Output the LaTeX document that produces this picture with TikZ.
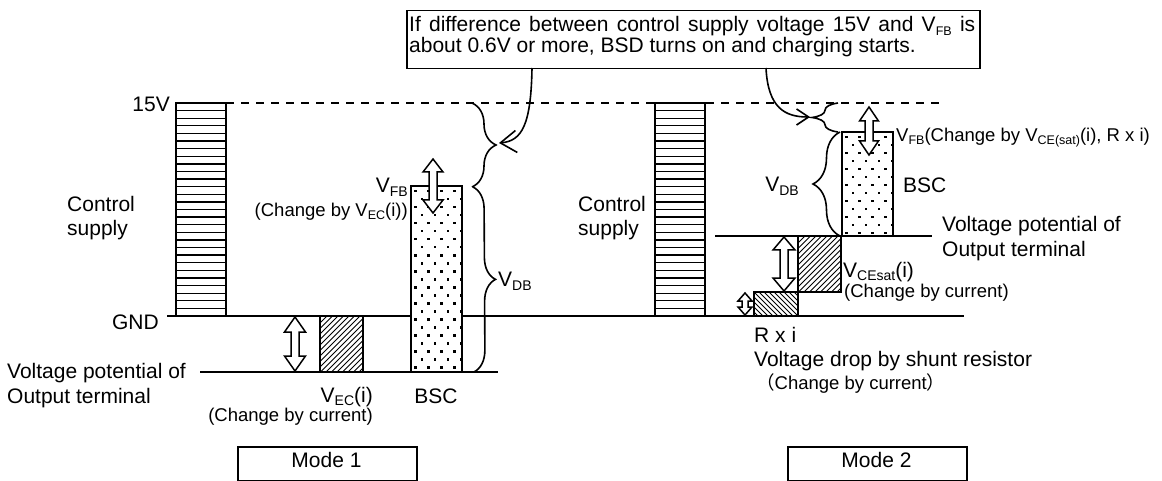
\documentclass[tikz,border=0pt]{standalone}
\usepackage{fontspec}
\setmainfont{Liberation Sans}
\newfontfamily\cjk{Noto Sans CJK JP}
\usetikzlibrary{arrows.meta,decorations.pathreplacing}
\newcommand{\sbs}[1]{\raisebox{-0.3ex}{\fontsize{14}{14}\selectfont #1}}
\newcommand{\ssbs}[1]{\raisebox{-0.3ex}{\fontsize{12.5}{12.5}\selectfont #1}}
% double open arrow: x, ytop, ybot, head half width, shaft half width, head length
\newcommand{\dblarr}[6]{%
  \draw[dbl] (#1,#2) -- (#1+#4,#2+#6) -- (#1+#5,#2+#6) -- (#1+#5,#3-#6) -- (#1+#4,#3-#6)
    -- (#1,#3) -- (#1-#4,#3-#6) -- (#1-#5,#3-#6) -- (#1-#5,#2+#6) -- (#1-#4,#2+#6) -- cycle;}
\begin{document}
\begin{tikzpicture}[x=1pt,y=-1pt,
  every node/.style={inner sep=0pt, font=\fontsize{21}{24}\selectfont},
  small/.style={font=\fontsize{18.5}{22}\selectfont},
  bar/.style={draw, line width=2, fill=white},
  lvl/.style={line width=1.5},
  hatchline/.style={line width=0.9},
  dbl/.style={line width=1.5, fill=white},
  brc/.style={decorate, decoration={brace, amplitude=#1}, line width=1.6},
  callout/.style={line width=1.6},
  modebox/.style={draw, line width=1.5, minimum width=179pt, minimum height=34pt, anchor=north west}]
\useasboundingbox (0,0) rectangle (1162,481);

% ---------- reference levels ----------
\draw[line width=1.3, dash pattern=on 8pt off 7pt] (226,103) -- (940,103);
\draw[lvl] (167,316) -- (964,316);
\draw[lvl] (200,372) -- (498,372);
\draw[lvl] (715,236) -- (932,236);

% ---------- Mode 1 ----------
% control supply bar
\draw[bar] (176,103) rectangle (226,316);
\foreach \k in {1,...,27} \draw[line width=1.3] (176,{103+\k*7.607}) -- (226,{103+\k*7.607});

% V_EC hatched box
\begin{scope}
  \clip (320,316) rectangle (363,372);
  \foreach \i in {0,...,22} \draw[hatchline] ({260+\i*5.5},372) -- ++(64,-64);
\end{scope}
\draw[line width=2] (320,316) rectangle (363,372);

% BSC dotted box
\fill[white] (411,186) rectangle (462,372);
\begin{scope}
  \clip (411,186) rectangle (462,372);
  \foreach \r in {0,...,23} \foreach \c in {0,...,4}
    \fill ({414+\c*13+mod(\r,2)*6.5}, {190+\r*8}) rectangle ++(2.5,2.5);
\end{scope}
\draw[line width=2] (411,186) rectangle (462,372);

\dblarr{295}{317}{371}{10.5}{4}{15}
\dblarr{433}{159}{213}{10}{4}{13}

% braces
\draw[brc=24pt] (472,103) -- (472,187);
\draw[brc=22pt] (473,187) -- (474,372);

% labels
\node[anchor=base east] (l15) at (170,111.5) {15V};
\node[anchor=base east] (lgnd) at (159,329) {GND};
\node[anchor=base west] (lcs1) at (67,212) {Control};
\node[anchor=base west] (lcs2) at (67,236) {supply};
\node[anchor=base west] (lvp1) at (7,378) {Voltage potential of};
\node[anchor=base west] (lvp2) at (7,403) {Output terminal};
\node[anchor=base east] (lvfb) at (408,193) {V\sbs{FB}};
\node[small, anchor=base east] (lvfb2) at (408,217) {(Change by V\ssbs{EC}(i))};
\node[anchor=base east] (lvec) at (373,402) {V\sbs{EC}(i)};
\node[small, anchor=base east] (lvec2) at (373,421) {(Change by current)};
\node[anchor=base] (lbsc) at (436,403) {BSC};
\node[anchor=base west] (lvdb) at (498,287) {V\sbs{DB}};
\node[modebox] (m1) at (237,446) {};
\node[anchor=base] (m1t) at (326.5,467) {Mode 1};

% ---------- Mode 2 ----------
\draw[bar] (655,103) rectangle (705,316);
\foreach \k in {1,...,27} \draw[line width=1.3] (655,{103+\k*7.607}) -- (705,{103+\k*7.607});

% R x i box (back hatch)
\begin{scope}
  \clip (754,292) rectangle (798,316);
  \foreach \i in {0,...,14} \draw[hatchline] ({724+\i*5},292) -- ++(30,30);
\end{scope}
\draw[line width=2] (754,292) rectangle (798,316);

% V_CEsat box
\begin{scope}
  \clip (798,236) rectangle (841,292);
  \foreach \i in {0,...,22} \draw[hatchline] ({738+\i*5.5},292) -- ++(64,-64);
\end{scope}
\draw[line width=2] (798,236) rectangle (841,292);

% BSC box
\fill[white] (842,132) rectangle (893,236);
\begin{scope}
  \clip (842,132) rectangle (893,236);
  \foreach \r in {0,...,13} \foreach \c in {0,...,4}
    \fill ({845+\c*13+mod(\r,2)*6.5}, {136+\r*8}) rectangle ++(2.5,2.5);
\end{scope}
\draw[line width=2] (842,132) rectangle (893,236);

\dblarr{869}{107}{155}{9.5}{4}{14}
\dblarr{784}{237}{291}{11}{4}{13}
\dblarr{745}{293}{315}{7}{3}{8}

\draw[brc=26pt] (838,132) -- (838,103);
\draw[brc=27pt] (840,236) -- (840,132);

\node[anchor=base west] (rcs1) at (578,212) {Control};
\node[anchor=base west] (rcs2) at (578,236) {supply};
\node[anchor=base east] (rvdb) at (799,192) {V\sbs{DB}};
\node[small, anchor=base west] (rvfb) at (896,142) {V\ssbs{FB}(Change by V\ssbs{CE(sat)}(i), R x i)};
\node[anchor=base west] (rbsc) at (903,193) {BSC};
\node[anchor=base west] (rvp1) at (942,232) {Voltage potential of};
\node[anchor=base west] (rvp2) at (942,256) {Output terminal};
\node[anchor=base west] (rvce) at (843,277) {V\sbs{CEsat}(i)};
\node[small, anchor=base west] (rvce2) at (844,297) {(Change by current)};
\node[anchor=base west] (rrxi) at (754,342) {R x i};
\node[anchor=base west] (rvd) at (754,366) {Voltage drop by shunt resistor};
\node[small, anchor=base west] (rcc) at (756,389) {{\cjk （}Change by current{\cjk ）}};
\node[modebox] (m2) at (787,446) {};
\node[anchor=base] (m2t) at (876.5,467) {Mode 2};

% ---------- callout ----------
\node[draw, line width=1.5, anchor=north west, minimum width=573pt, minimum height=58pt] (tb) at (406,10) {};
\node[anchor=north west, align=left, font=\fontsize{21}{21}\selectfont] (tbt) at (409,16.5)
  {\makebox[566pt][s]{If difference between control supply voltage 15V and V\ssbs{FB} is}\\
   about 0.6V or more, BSD turns on and charging starts.};
\coordinate (a1s) at (532,68);
\coordinate (a1e) at (499,143);
\coordinate (a2s) at (766,68);
\coordinate (a2e) at (810,117);
\draw[callout, -{Straight Barb[length=16pt,width=22pt]}] (a1s) .. controls (531,125) and (522,141) .. (a1e);
\draw[callout, -{Straight Barb[length=12pt,width=16pt]}] (a2s) .. controls (768,108) and (785,117) .. (a2e);
\end{tikzpicture}
\end{document}
